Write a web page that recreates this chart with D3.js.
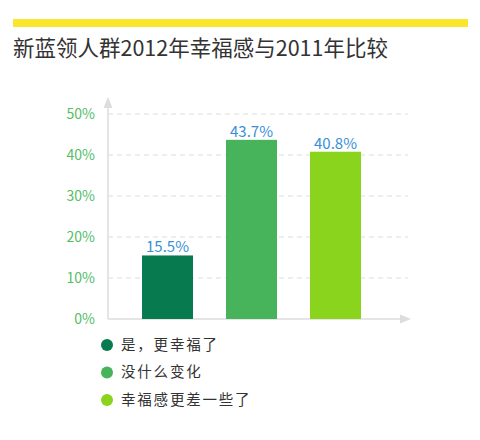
<!DOCTYPE html>
<html lang="zh">
<head>
<meta charset="utf-8">
<title>新蓝领人群2012年幸福感与2011年比较</title>
<script src="https://cdn.jsdelivr.net/npm/d3@7"></script>
<style>
  body { margin: 0; background: #fff; }
  text { font-family: "Noto Sans CJK SC", "Noto Sans", sans-serif; }
  .title { font-size: 21.5px; fill: #333; }
  .tick-label { font-size: 14px; fill: #55bc68; text-anchor: end; dominant-baseline: middle; }
  .value { font-size: 15px; fill: #3990d8; text-anchor: middle; }
  .legend { font-size: 14.5px; fill: #333; letter-spacing: 1.8px; dominant-baseline: middle; }
  .grid { stroke: #ddd; stroke-width: 1; stroke-dasharray: 5,4; }
  .axis-line { stroke: #ddd; stroke-width: 1.5; }
</style>
</head>
<body>
<script>
var categories = ["是，更幸福了", "没什么变化", "幸福感更差一些了"];
var values = [15.5, 43.7, 40.8];
var colors = ["#087a50", "#47b45b", "#8bd41d"];
var yTicks = [0, 10, 20, 30, 40, 50];

var w = 480, h = 440;
var x0 = 108, x1 = 408, yBase = 319, yTop = 114;

var svg = d3.select("body").append("svg").attr("width", w).attr("height", h);

// yellow strip + title
svg.append("rect").attr("x", 13).attr("y", 19).attr("width", 455).attr("height", 8).attr("fill", "#fbe52d");
svg.append("text").attr("class", "title").attr("x", 13).attr("y", 56)
   .text("新蓝领人群2012年幸福感与2011年比较");

var y = d3.scaleLinear().domain([0, 50]).range([yBase, yTop]);
var x = d3.scaleBand().domain(categories).range([109, 394]).padding(0.393);

// gridlines
svg.selectAll(".grid").data(yTicks.slice(1)).enter().append("line")
   .attr("class", "grid")
   .attr("x1", x0).attr("x2", x1)
   .attr("y1", function(d) { return y(d); }).attr("y2", function(d) { return y(d); });

// tick labels
svg.selectAll(".tick-label").data(yTicks).enter().append("text")
   .attr("class", "tick-label")
   .attr("x", 95)
   .attr("y", function(d) { return y(d) + 1; })
   .text(function(d) { return d + "%"; });

// axes with arrows
svg.append("line").attr("class", "axis-line").attr("x1", x0).attr("x2", x0).attr("y1", yBase).attr("y2", 104);
svg.append("path").attr("d", "M" + x0 + ",97 L" + (x0 - 4.5) + ",108 L" + (x0 + 4.5) + ",108 Z").attr("fill", "#ddd");
svg.append("line").attr("class", "axis-line").attr("x1", x0).attr("x2", 404).attr("y1", yBase).attr("y2", yBase);
svg.append("path").attr("d", "M411," + yBase + " L400," + (yBase - 4.5) + " L400," + (yBase + 4.5) + " Z").attr("fill", "#ddd");

// bars
svg.selectAll(".bar").data(values).enter().append("rect")
   .attr("class", "bar")
   .attr("x", function(d, i) { return x(categories[i]); })
   .attr("y", function(d) { return y(d); })
   .attr("width", x.bandwidth())
   .attr("height", function(d) { return yBase - y(d); })
   .attr("fill", function(d, i) { return colors[i]; });

svg.selectAll(".value").data(values).enter().append("text")
   .attr("class", "value")
   .attr("x", function(d, i) { return x(categories[i]) + x.bandwidth() / 2; })
   .attr("y", function(d) { return y(d) - 3; })
   .text(function(d) { return d.toFixed(1) + "%"; });

// legend
var leg = svg.selectAll(".leg").data(categories).enter().append("g")
   .attr("transform", function(d, i) { return "translate(107," + (345 + i * 27.5) + ")"; });
leg.append("circle").attr("r", 6).attr("fill", function(d, i) { return colors[i]; });
leg.append("text").attr("class", "legend").attr("x", 14).attr("y", 1).text(function(d) { return d; });
</script>
</body>
</html>
